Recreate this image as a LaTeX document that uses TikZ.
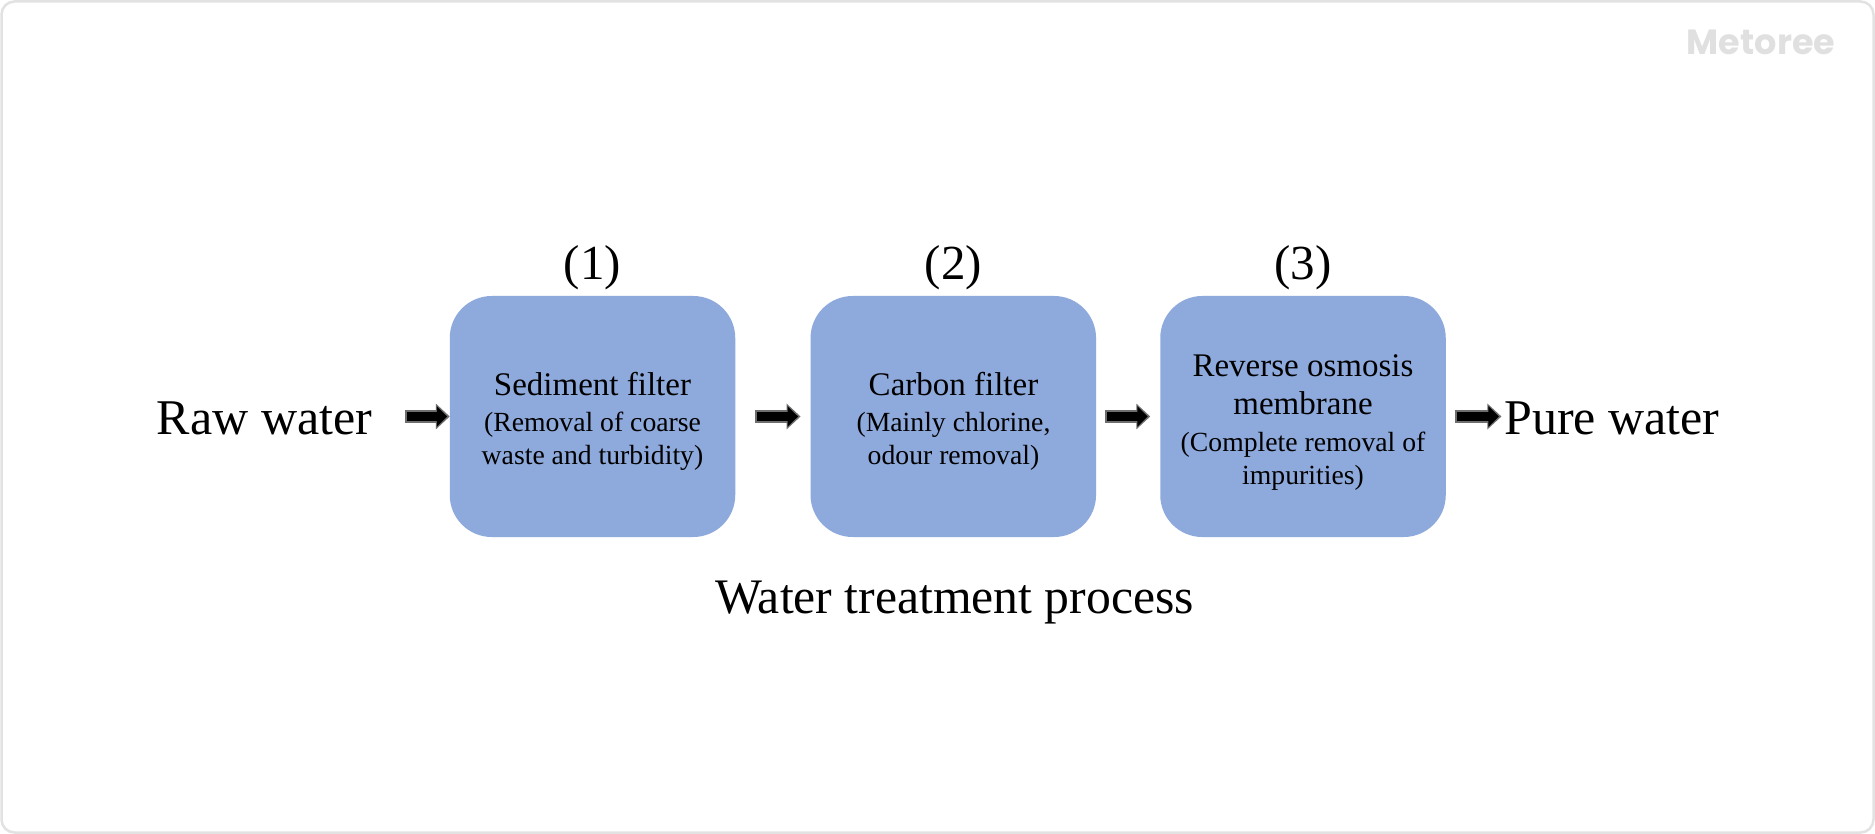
\documentclass[tikz,border=0pt]{standalone}
\usepackage{fontspec}
\setmainfont{Liberation Serif}
\newfontfamily\markfont{Poppins}
\usetikzlibrary{arrows.meta}
\definecolor{boxblue}{HTML}{8EA9DB}
\definecolor{framegray}{HTML}{E2E2E2}
\definecolor{markgray}{HTML}{E0E0E0}
\definecolor{tipgray}{HTML}{6E6E6E}
\newcommand{\ttl}[1]{{\fontsize{33}{33}\selectfont #1}}
\newcommand{\subt}[1]{{\fontsize{27.7}{33}\selectfont #1}}
\tikzset{
  every node/.style={inner sep=0pt,outer sep=0pt,text=black},
  stage/.style={fill=boxblue,rounded corners=42pt,minimum width=285.5pt,minimum height=241pt,align=center},
  stagetext/.style={align=center,anchor=center,font=\fontsize{27.7}{33}\selectfont},
  big/.style={font=\fontsize{50}{60}\selectfont},
  capt/.style={font=\fontsize{49.7}{60}\selectfont},
  num/.style={font=\fontsize{49}{56}\selectfont},
  flow/.style 2 args={line width=12.5pt,draw=tipgray,shorten <=#1,shorten >=#2,
    -{Triangle[length=14pt,width=25pt]},
    postaction={draw=black,line width=9.5pt,shorten <=#1+2pt,shorten >=#2+2.5pt,
      -{Triangle[length=10.5pt,width=20pt]}}},
}
\begin{document}
\begin{tikzpicture}[x=1pt,y=-1pt]
\useasboundingbox (0,0) rectangle (1875,834);
\fill[white] (0,0) rectangle (1875,834);
\node[fill=none,draw=framegray,line width=2.5pt,rounded corners=13pt,minimum width=1872pt,minimum height=831pt] (frame) at (937.5,417) {};
\node[font=\markfont\bfseries\fontsize{35}{40}\selectfont,text=markgray] (mark) at (1761,42) {Metoree};
\node[stage] (b1) at (592.5,416.5) {};
\node[stage] (b2) at (953.3,416.5) {};
\node[stage] (b3) at (1303,416.5) {};
\node[stagetext] (t1) at (592.5,421) {\ttl{Sediment filter}\\[3pt]\subt{(Removal of coarse}\\\subt{waste and turbidity)}};
\node[stagetext] (t2) at (953.5,421) {\ttl{Carbon filter}\\[3pt]\subt{(Mainly chlorine,}\\\subt{odour removal)}};
\node[stagetext] (t3) at (1303,422.5) {\ttl{Reverse osmosis}\\[5pt]\ttl{membrane}\\[4pt]\subt{(Complete removal of}\\\subt{impurities)}};
\node[num] (n1) at (592.5,268) {(1)};
\node[num] (n2) at (953.5,268) {(2)};
\node[num] (n3) at (1303,268) {(3)};
\node[big] (raw) at (264.5,418) {Raw water};
\node[big] (pure) at (1612,418) {Pure water};
\node[capt] (cap) at (954.5,603) {Water treatment process};
\coordinate (rawend) at (raw.east |- b1.west);
\coordinate (pureend) at (pure.west |- b3.east);
\draw[flow={33pt}{0pt}] (rawend) -- (b1.west);
\draw[flow={20pt}{10pt}] (b1.east) -- (b2.west);
\draw[flow={9pt}{10pt}] (b2.east) -- (b3.west);
\draw[flow={9pt}{3pt}] (b3.east) -- (pureend);
\end{tikzpicture}
\end{document}
